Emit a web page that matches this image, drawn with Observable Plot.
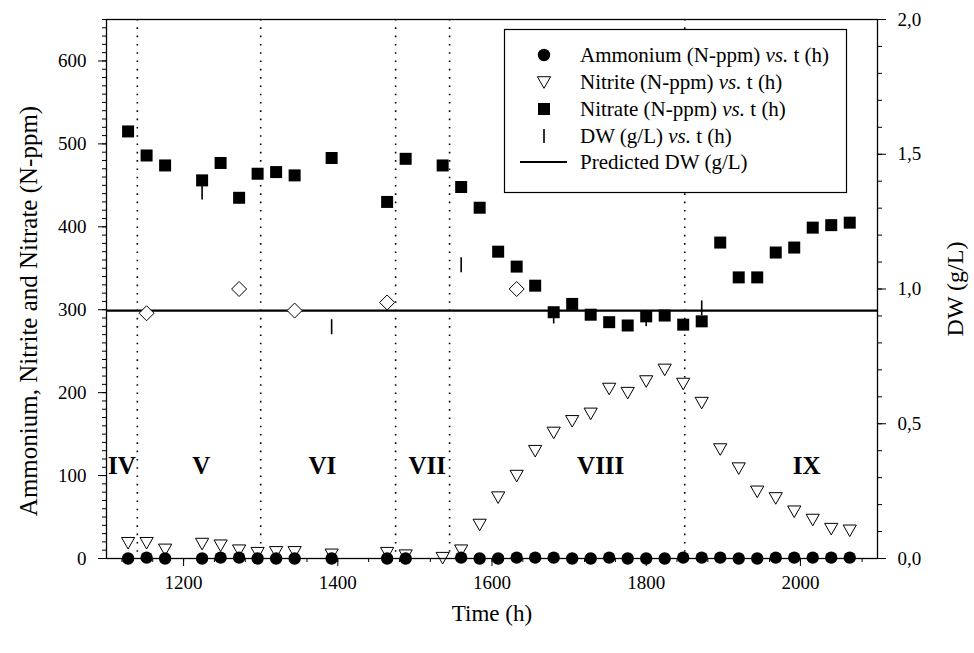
<!DOCTYPE html>
<html>
<head>
<meta charset="utf-8">
<script src="https://cdn.jsdelivr.net/npm/d3@7"></script>
<script src="https://cdn.jsdelivr.net/npm/@observablehq/plot@0.6"></script>
<style>
  html, body { margin: 0; padding: 0; background: #fff; }
</style>
</head>
<body>
<div id="chart"></div>
<script>
// Sampling times (h)
const ammoniumHours = [1128, 1152, 1176, 1224, 1248, 1272, 1296, 1320, 1344, 1392, 1464, 1488, 1560,
  1584, 1608, 1632, 1656, 1680, 1704, 1728, 1752, 1776, 1800, 1824, 1848, 1872, 1896, 1920, 1944,
  1968, 1992, 2016, 2040, 2064];
const ammoniumPpm = [0, 1, 0, 0, 1, 1, 0, 0, 0, 0, 0, 0, 1,
  0, 0, 1, 1, 1, 0, 0, 1, 0, 0, 0, 1, 1, 1, 0, 0,
  1, 1, 1, 1, 1];

const nitriteHours = [1128, 1152, 1176, 1224, 1248, 1272, 1296, 1320, 1344, 1392, 1464, 1488, 1536, 1560,
  1584, 1608, 1632, 1656, 1680, 1704, 1728, 1752, 1776, 1800, 1824, 1848, 1872, 1896, 1920, 1944,
  1968, 1992, 2016, 2040, 2064];
const nitritePpm = [19, 19, 11, 18, 16, 10, 7, 8, 8, 5, 7, 4, 1, 10,
  41, 74, 100, 130, 152, 166, 175, 205, 200, 214, 228, 211, 188, 132, 109, 81,
  73, 57, 47, 36, 34];

const nitrateHours = [1128, 1152, 1176, 1224, 1248, 1272, 1296, 1320, 1344, 1392, 1464, 1488, 1536, 1560,
  1584, 1608, 1632, 1656, 1680, 1704, 1728, 1752, 1776, 1800, 1824, 1848, 1872, 1896, 1920, 1944,
  1968, 1992, 2016, 2040, 2064];
const nitratePpm = [515, 486, 474, 456, 477, 435, 464, 466, 462, 483, 430, 482, 474, 448,
  423, 370, 352, 329, 297, 307, 294, 285, 281, 292, 293, 282, 286, 381, 339, 339,
  369, 375, 399, 402, 405];

// Dry weight (g/L)
const dwHours = [1224, 1392, 1560, 1680, 1800, 1872];
const dwGL = [1.36, 0.86, 1.09, 0.90, 0.89, 0.93];

// Additional dry-weight readings (open diamonds)
const dwOpenHours = [1152, 1272, 1344, 1464, 1632];
const dwOpenGL = [0.91, 1.00, 0.92, 0.95, 1.00];

const predictedDW = 0.92;

// Phase boundaries (h) and phase names
const phaseBounds = [1140, 1300, 1475, 1545, 1850];
const phaseNames = ["IV", "V", "VI", "VII", "VIII", "IX"];
const phaseCenters = [1120, 1223, 1380, 1516, 1741, 2008];
const phaseLabelLevel = 112;

// Axis ticks
const xMajor = [1200, 1400, 1600, 1800, 2000];
const yLeftMajor = [0, 100, 200, 300, 400, 500, 600];
const yRightMajor = [0, 0.5, 1.0, 1.5, 2.0];

// Left axis spans 0–650 N-ppm, right axis spans 0–2.0 g/L
const leftMax = 650, rightMax = 2.0;
const dwScale = leftMax / rightMax;

const legendLabels = [
  ["Ammonium (N-ppm) ", "vs.", " t (h)"],
  ["Nitrite (N-ppm) ", "vs.", " t (h)"],
  ["Nitrate (N-ppm) ", "vs.", " t (h)"],
  ["DW (g/L) ", "vs.", " t (h)"],
  ["Predicted DW (g/L)", "", ""]
];

const zip = (xs, ys) => xs.map((x, i) => ({x, y: ys[i]}));
const ammonium = zip(ammoniumHours, ammoniumPpm);
const nitrite = zip(nitriteHours, nitritePpm);
const nitrate = zip(nitrateHours, nitratePpm);
const dw = zip(dwHours, dwGL.map(v => v * dwScale));
const dwOpen = zip(dwOpenHours, dwOpenGL.map(v => v * dwScale));
const phases = phaseNames.map((name, i) => ({name, x: phaseCenters[i], y: phaseLabelLevel}));

// Marker shapes
const rOf = size => Math.sqrt(size / Math.PI);
const triangleDown = {draw(ctx, size) {
  const r = rOf(size);
  ctx.moveTo(-r, -0.8 * r); ctx.lineTo(r, -0.8 * r); ctx.lineTo(0, 0.95 * r); ctx.closePath();
}};
const squareMark = {draw(ctx, size) {
  const r = rOf(size);
  ctx.rect(-r, -r, 2 * r, 2 * r);
}};
const diamondMark = {draw(ctx, size) {
  const r = rOf(size);
  ctx.moveTo(0, -r); ctx.lineTo(r, 0); ctx.lineTo(0, r); ctx.lineTo(-r, 0); ctx.closePath();
}};
const barMark = {draw(ctx, size) {
  const r = rOf(size);
  ctx.moveTo(0, -r); ctx.lineTo(0, r);
}};

const font = "'Liberation Serif', 'Times New Roman', serif";
const noLabel = () => "";
const commaFmt = d => (d / dwScale).toFixed(1).replace(".", ",");

const chart = Plot.plot({
  width: 974,
  height: 653,
  marginLeft: 106,
  marginRight: 97,
  marginTop: 19,
  marginBottom: 95,
  style: {fontFamily: font, fontSize: "19px", background: "white", color: "black", overflow: "visible"},
  x: {domain: [1100, 2100]},
  y: {domain: [0, leftMax]},
  marks: [
    Plot.ruleX(phaseBounds, {stroke: "black", strokeWidth: 1.6, strokeDasharray: "1.6,6.7"}),
    Plot.ruleY([predictedDW * dwScale], {stroke: "black", strokeWidth: 2.2}),
    Plot.dot(dw, {x: "x", y: "y", symbol: barMark, r: 7.5, stroke: "black", strokeWidth: 1.6}),
    Plot.dot(dwOpen, {x: "x", y: "y", symbol: diamondMark, r: 7.5, fill: "white", stroke: "black", strokeWidth: 1}),
    Plot.dot(nitrate, {x: "x", y: "y", symbol: squareMark, r: 6, fill: "black", stroke: "none"}),
    Plot.dot(nitrite, {x: "x", y: "y", symbol: triangleDown, r: 6.6, fill: "white", stroke: "black", strokeWidth: 1}),
    Plot.dot(ammonium, {x: "x", y: "y", r: 6.2, fill: "black", stroke: "none"}),
    Plot.text(phases, {x: "x", y: "y", text: "name", fontSize: 25, fontWeight: "bold", fontFamily: font}),
    Plot.frame({stroke: "black", strokeWidth: 1.3}),
    // bottom axis
    Plot.axisX(d3.range(1120, 2081, 40), {anchor: "bottom", tickSize: 4, tickFormat: noLabel, label: null}),
    Plot.axisX(xMajor, {anchor: "bottom", tickSize: 8, tickPadding: 9, label: null, tickFormat: d => String(d)}),
    // left axis
    Plot.axisY(d3.range(0, 651, 10), {anchor: "left", tickSize: 4, tickFormat: noLabel, label: null}),
    Plot.axisY(yLeftMajor, {anchor: "left", tickSize: 8, tickPadding: 12, label: null, tickFormat: d => String(d)}),
    // right axis (DW)
    Plot.axisY(d3.range(0, 21, 1).map(i => i * 0.1 * dwScale), {anchor: "right", tickSize: 4, tickFormat: noLabel, label: null}),
    Plot.axisY(yRightMajor.map(v => v * dwScale), {anchor: "right", tickSize: 8, tickPadding: 12, label: null, tickFormat: commaFmt}),
    // axis titles
    Plot.text(["Ammonium, Nitrite and Nitrate (N-ppm)"], {frameAnchor: "left", textAnchor: "middle", rotate: -90, dx: -78, dy: 22, fontSize: 25, fontFamily: font}),
    Plot.text(["DW (g/L)"], {frameAnchor: "right", textAnchor: "middle", rotate: -90, dx: 78, fontSize: 24, fontFamily: font}),
    Plot.text(["Time (h)"], {frameAnchor: "bottom", dy: 62, fontSize: 23, fontFamily: font})
  ]
});

document.getElementById("chart").appendChild(chart);

// Legend box in the upper right of the plot area
const svg = d3.select(chart);
const lg = svg.append("g").attr("font-family", font).attr("font-size", 21).attr("text-anchor", "start");
lg.append("rect").attr("x", 504.5).attr("y", 29.5).attr("width", 342).attr("height", 163)
  .attr("fill", "white").attr("stroke", "black").attr("stroke-width", 1.2);
const rowY = [55, 82, 109, 136, 162];
const symX = 544, textX = 580;
const sym = (obj, r) => d3.symbol(obj, Math.PI * r * r)();
lg.append("circle").attr("cx", symX).attr("cy", rowY[0]).attr("r", 6.2).attr("fill", "black");
lg.append("path").attr("d", sym(triangleDown, 6.6)).attr("transform", `translate(${symX},${rowY[1]})`)
  .attr("fill", "white").attr("stroke", "black");
lg.append("path").attr("d", sym(squareMark, 6)).attr("transform", `translate(${symX},${rowY[2]})`).attr("fill", "black");
lg.append("path").attr("d", sym(barMark, 7)).attr("transform", `translate(${symX},${rowY[3]})`)
  .attr("stroke", "black").attr("stroke-width", 1.6);
lg.append("line").attr("x1", 520).attr("x2", 567).attr("y1", rowY[4]).attr("y2", rowY[4])
  .attr("stroke", "black").attr("stroke-width", 2);
legendLabels.forEach((parts, i) => {
  const t = lg.append("text").attr("x", textX).attr("y", rowY[i]).attr("dy", "0.35em");
  t.append("tspan").text(parts[0]);
  if (parts[1]) t.append("tspan").attr("font-style", "italic").text(parts[1]);
  if (parts[2]) t.append("tspan").text(parts[2]);
});
</script>
</body>
</html>
